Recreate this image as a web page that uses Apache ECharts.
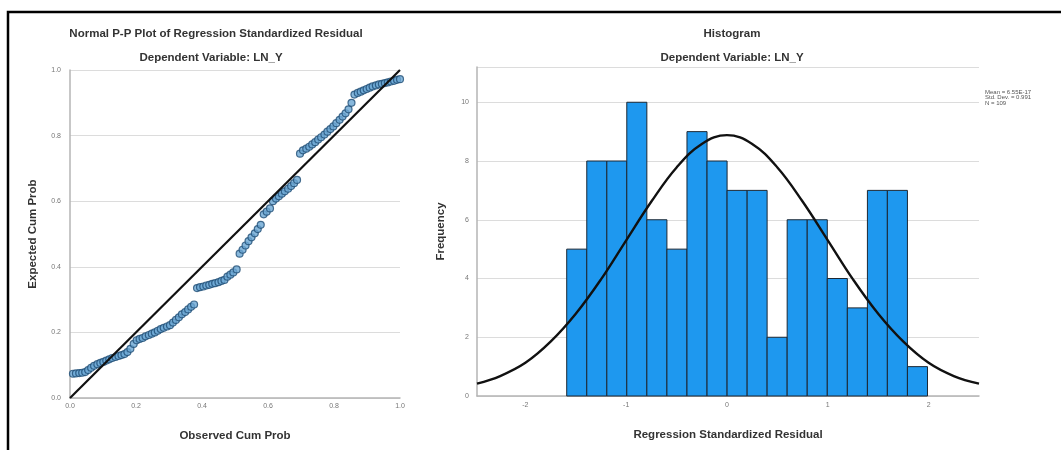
<!DOCTYPE html>
<html>
<head>
<meta charset="utf-8">
<script src="https://cdn.jsdelivr.net/npm/echarts@6/dist/echarts.min.js"></script>
<style>
html,body{margin:0;padding:0;background:#fff;}
#chart{width:1061px;height:450px;}
</style>
</head>
<body>
<div id="chart"></div>
<script>
// ---- P-P plot data ----
var ppObserved = [0.009,0.018,0.028,0.037,0.046,0.055,0.064,0.073,0.083,0.092,0.101,0.110,0.119,0.128,0.138,0.147,0.156,0.165,0.174,0.183,0.193,0.202,0.211,0.220,0.229,0.239,0.248,0.257,0.266,0.275,0.284,0.294,0.303,0.312,0.321,0.330,0.339,0.349,0.358,0.367,0.376,0.385,0.394,0.404,0.413,0.422,0.431,0.440,0.450,0.459,0.468,0.477,0.486,0.495,0.505,0.514,0.523,0.532,0.541,0.550,0.560,0.569,0.578,0.587,0.596,0.606,0.615,0.624,0.633,0.642,0.651,0.661,0.670,0.679,0.688,0.697,0.706,0.716,0.725,0.734,0.743,0.752,0.761,0.771,0.780,0.789,0.798,0.807,0.817,0.826,0.835,0.844,0.853,0.862,0.872,0.881,0.890,0.899,0.908,0.917,0.927,0.936,0.945,0.954,0.963,0.972,0.982,0.991,1.000];
var ppExpected = [0.074,0.075,0.076,0.077,0.079,
  0.085,0.092,0.098,0.103,0.107,0.110,0.114,0.118,
  0.122,0.125,0.128,0.131,0.134,0.140,0.150,0.165,
  0.176,0.180,0.183,0.188,0.192,0.196,0.200,0.205,0.210,0.214,
  0.218,0.222,0.230,0.238,0.246,0.255,
  0.262,0.270,0.278,0.285,
  0.335,0.338,0.340,0.343,
  0.345,0.348,0.350,0.353,0.357,0.360,
  0.370,0.376,0.383,0.392,
  0.440,0.452,0.465,0.478,0.490,0.502,0.515,0.528,
  0.560,0.568,0.578,
  0.600,0.608,0.615,0.623,0.630,0.638,0.646,0.655,0.665,
  0.745,0.755,
  0.760,0.766,0.773,0.780,0.788,0.795,0.803,0.812,0.820,0.828,0.838,0.848,0.858,0.868,0.880,
  0.900,0.925,
  0.930,0.934,0.938,0.942,0.946,0.950,0.953,0.956,0.958,0.960,0.962,0.965,0.967,0.970,0.972];
var refLine = [[0,0],[1,1]];

// ---- Histogram data ----
var binEdges = [-1.59,-1.391,-1.192,-0.994,-0.795,-0.596,-0.397,-0.198,0.001,0.2,0.398,0.597,0.796,0.995,1.194,1.393,1.591,1.79,1.989];
var binCounts = [5,8,8,10,6,5,9,8,7,7,2,6,6,4,3,7,7,1];
var curveX = [-2.48,-2.25,-2,-1.75,-1.5,-1.25,-1,-0.75,-0.5,-0.25,0,0.25,0.5,0.75,1,1.25,1.5,1.75,2,2.25,2.5];
var curveY = [0.42,0.68,1.13,1.85,2.8,3.97,5.3,6.62,7.78,8.58,8.88,8.58,7.78,6.62,5.3,3.97,2.8,1.85,1.13,0.68,0.42];
var histXTicks = [-2,-1,0,1,2];
var statsText = ['Mean = 6.55E-17','Std. Dev. = 0.991','N = 109'];

var ppData = ppObserved.map(function(x,i){return [x, ppExpected[i]];});
var histData = binCounts.map(function(c,i){return [binEdges[i], binEdges[i+1], c];});
var curveData = curveX.map(function(x,i){return [x, curveY[i]];});

var FONT = '"Liberation Sans", Arial, sans-serif';
var axisLineStyle = {color:'#b4b4b4', width:1.5};
var gridLineStyle = {color:'#dcdcdc', width:1};
var tickLabel = {fontSize:7, color:'#777', fontFamily:FONT};
var nameStyle = {fontSize:11.5, fontWeight:'bold', color:'#333', fontFamily:FONT};
var titleStyle = {fontSize:11.5, fontWeight:'bold', color:'#333', fontFamily:FONT};

var chart = echarts.init(document.getElementById('chart'), null, {renderer:'canvas'});
chart.setOption({
  animation:false,
  backgroundColor:'#fff',
  title:[
    {text:'Normal P-P Plot of Regression Standardized Residual', left:211, top:23, textAlign:'center', textStyle:titleStyle},
    {text:'Dependent Variable: LN_Y', left:206, top:47, textAlign:'center', textStyle:titleStyle},
    {text:'Histogram', left:727, top:23, textAlign:'center', textStyle:titleStyle},
    {text:'Dependent Variable: LN_Y', left:727, top:47, textAlign:'center', textStyle:titleStyle}
  ],
  graphic:[
    {type:'rect', shape:{x:8, y:12, width:1120, height:520}, style:{fill:'none', stroke:'#000', lineWidth:2.5}, silent:true},
    {type:'text', left:985, top:89, style:{text:statsText.join('\n'), fontSize:6, lineHeight:5.5, fill:'#555', fontFamily:FONT}}
  ],
  grid:[
    {left:70, right:661, top:70, bottom:52},
    {left:477, right:82, top:67, bottom:54}
  ],
  xAxis:[
    {gridIndex:0, type:'value', min:0, max:1, interval:0.2,
     name:'Observed Cum Prob', nameLocation:'middle', nameGap:32, nameTextStyle:nameStyle,
     axisLine:{onZero:false, lineStyle:axisLineStyle}, axisTick:{show:false}, splitLine:{show:false},
     axisLabel:Object.assign({margin:5, formatter:function(v){return v.toFixed(1);}}, tickLabel)},
    {gridIndex:1, type:'value', min:-2.48, max:2.5,
     name:'Regression Standardized Residual', nameLocation:'middle', nameGap:33, nameTextStyle:nameStyle,
     axisLine:{onZero:false, lineStyle:axisLineStyle}, axisTick:{show:false}, splitLine:{show:false},
     axisLabel:Object.assign({margin:6, customValues:histXTicks}, tickLabel)}
  ],
  yAxis:[
    {gridIndex:0, type:'value', min:0, max:1, interval:0.2,
     name:'Expected Cum Prob', nameLocation:'middle', nameGap:31, nameTextStyle:nameStyle,
     axisLine:{show:true, onZero:false, lineStyle:axisLineStyle}, axisTick:{show:false},
     splitLine:{show:true, lineStyle:gridLineStyle},
     axisLabel:Object.assign({margin:9, formatter:function(v){return v.toFixed(1);}}, tickLabel)},
    {gridIndex:1, type:'value', min:0, max:11.2, interval:2,
     name:'Frequency', nameLocation:'middle', nameGap:30, nameTextStyle:nameStyle,
     axisLine:{show:true, onZero:false, lineStyle:axisLineStyle}, axisTick:{show:false},
     splitLine:{show:true, lineStyle:gridLineStyle},
     axisLabel:Object.assign({margin:8, showMaxLabel:false}, tickLabel)}
  ],
  series:[
    {type:'scatter', xAxisIndex:0, yAxisIndex:0, data:ppData, symbol:'circle', symbolSize:7,
     itemStyle:{color:'#6aa6d3', borderColor:'#1f4d76', borderWidth:1.2}, z:3},
    {type:'line', xAxisIndex:0, yAxisIndex:0, data:refLine, symbol:'none',
     lineStyle:{color:'#111', width:2.2}, z:4},
    {type:'custom', xAxisIndex:1, yAxisIndex:1, data:histData,
     encode:{x:[0,1], y:2},
     renderItem:function(params, api){
       var p0 = api.coord([api.value(0), 0]);
       var p1 = api.coord([api.value(1), api.value(2)]);
       return {type:'rect', shape:{x:p0[0], y:p1[1], width:p1[0]-p0[0], height:p0[1]-p1[1]},
               style:{fill:'#1e98ef', stroke:'#1c2733', lineWidth:1}};
     }, z:2},
    {type:'line', xAxisIndex:1, yAxisIndex:1, data:curveData, symbol:'none', smooth:0.4,
     lineStyle:{color:'#111', width:2.4}, z:5}
  ]
});
</script>
</body>
</html>
